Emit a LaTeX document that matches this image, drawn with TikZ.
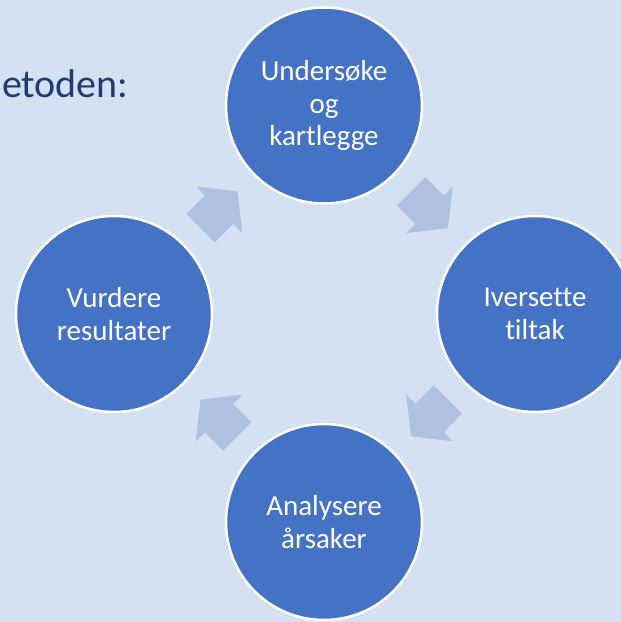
\documentclass[tikz,border=0pt]{standalone}
\usepackage{fontspec}
\setmainfont[Ligatures=NoCommon]{Carlito}
\usetikzlibrary{calc}

\definecolor{slidebg}{HTML}{D3E1F3}
\definecolor{stepblue}{HTML}{4472C4}
\definecolor{arrowfill}{HTML}{B1BFE0}
\definecolor{titlenavy}{HTML}{203A72}

\tikzset{
    stepcircle/.style={circle, fill=stepblue, draw=white, line width=2.5pt,
        minimum size=196pt, inner sep=0pt, text=white, align=center,
        font=\fontsize{29pt}{32.5pt}\selectfont},
    cyclearrow/.pic={
        \fill[arrowfill] (-26,-20) -- (0,-20) -- (0,-33) -- (26,0)
            -- (0,33) -- (0,20) -- (-26,20) -- cycle;
    }
}

\begin{document}
\begin{tikzpicture}[x=1pt, y=1pt]

    % ------------------------------------------------------------------
    % 1. Slide background (clipped to the visible area)
    % ------------------------------------------------------------------
    \useasboundingbox (0,0) rectangle (621,622);
    \clip (0,0) rectangle (621,622);
    \fill[slidebg] (0,0) rectangle (621,622);

    % ------------------------------------------------------------------
    % 2. Title text, cut off at the left edge
    % ------------------------------------------------------------------
    \node[anchor=base west, inner sep=0pt, text=titlenavy,
        font=\fontsize{40pt}{48pt}\selectfont] (title) at (2,524) {etoden:};

    % ------------------------------------------------------------------
    % 3. The four steps of the cycle
    % ------------------------------------------------------------------
    \node[stepcircle] (kartlegge) at (324,516.5) {Undersøke\\og\\kartlegge};
    \node[stepcircle] (tiltak)    at (535,308)   {Iversette\\tiltak};
    \node[stepcircle] (arsaker)   at (324,100)   {Analysere\\årsaker};
    \node[stepcircle] (vurdere)   at (114,308)   {Vurdere\\resultater};

    % ------------------------------------------------------------------
    % 4. Block arrows half way between neighbouring steps
    % ------------------------------------------------------------------
    \pic[rotate=-45]  (arrA) at ($(kartlegge)!0.5!(tiltak)$) {cyclearrow};
    \pic[rotate=-135] (arrB) at ($(tiltak)!0.5!(arsaker)$)   {cyclearrow};
    \pic[rotate=135]  (arrC) at ($(arsaker)!0.5!(vurdere)$)  {cyclearrow};
    \pic[rotate=45]   (arrD) at ($(vurdere)!0.5!(kartlegge)$) {cyclearrow};

\end{tikzpicture}
\end{document}
